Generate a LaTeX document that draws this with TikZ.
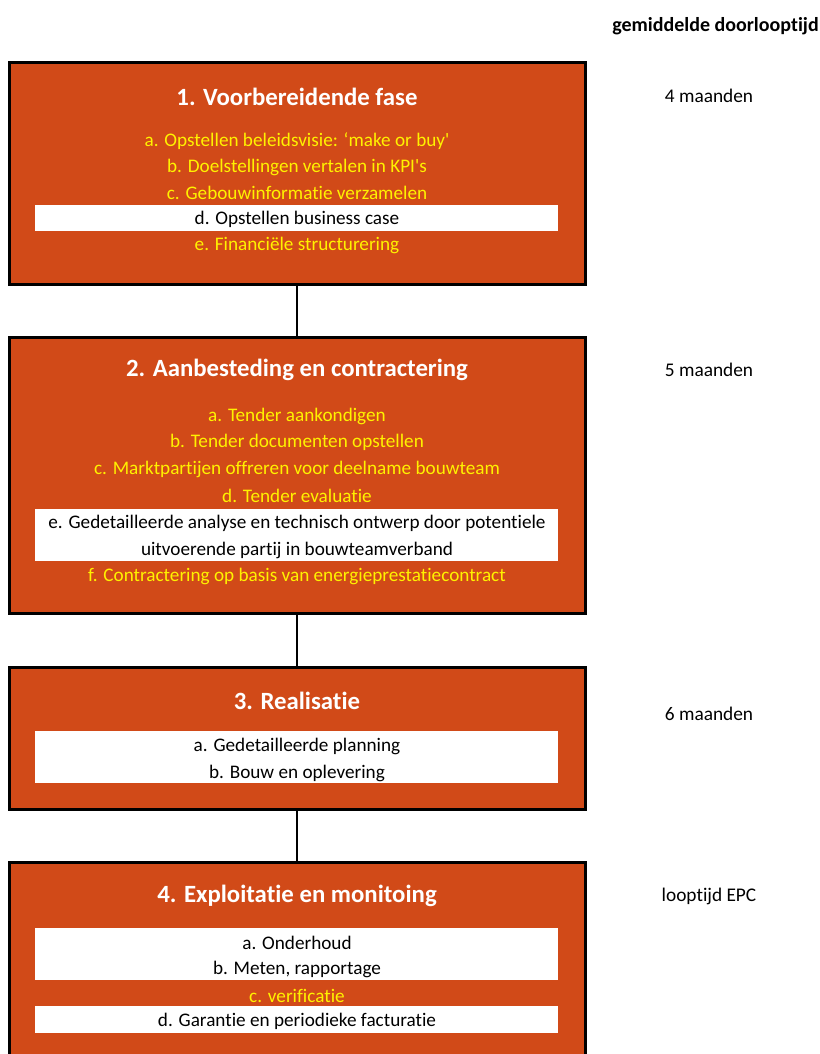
\documentclass[tikz,border=0pt]{standalone}
\usepackage{fontspec}
\setmainfont[Ligatures={NoCommon,NoRare}]{Carlito}
\definecolor{boxorange}{HTML}{D14A18}
\definecolor{itemyellow}{HTML}{FFF200}
\begin{document}
\begin{tikzpicture}[x=0.75pt,y=-0.75pt,
  phase/.style={draw=black, line width=2.25pt, fill=boxorange, minimum width=432pt, inner sep=0pt},
  band/.style={fill=white, draw=none, minimum width=392.25pt, inner sep=0pt},
  ptitle/.style={text=white, font=\fontsize{18.6}{22}\selectfont\bfseries, inner sep=0pt},
  yitem/.style={text=itemyellow, font=\fontsize{14.4}{17}\selectfont, inner sep=0pt},
  witem/.style={text=black, font=\fontsize{14.4}{17}\selectfont, inner sep=0pt, align=center},
  side/.style={text=black, font=\fontsize{14.5}{17}\selectfont, inner sep=0pt},
  link/.style={draw=black, line width=1.5pt}]
\useasboundingbox (0,0) rectangle (819,1054);
\clip (0,0) rectangle (819,1054);
% boxes
\node[phase, minimum height=166.5pt] (b1) at (297,173) {};
\node[phase, minimum height=207pt] (b2) at (297,475) {};
\node[phase, minimum height=106.5pt] (b3) at (297,738) {};
\node[phase, minimum height=163.5pt] (b4) at (297,971) {};
\draw[link] (b1.south) -- (b2.north);
\draw[link] (b2.south) -- (b3.north);
\draw[link] (b3.south) -- (b4.north);
% white bands
\node[band, minimum height=19.5pt] (w1) at (296.5,218) {};
\node[band, minimum height=39pt] (w2) at (296.5,535) {};
\node[band, minimum height=39pt] (w3) at (296.5,757) {};
\node[band, minimum height=39pt] (w4) at (296.5,954) {};
\node[band, minimum height=20.25pt] (w5) at (296.5,1019.5) {};
% box 1
\node[ptitle] (t1) at (297,97) {1. Voorbereidende fase};
\node[yitem] (i1a) at (297,141) {a. Opstellen beleidsvisie: ‘make or buy\textquotesingle};
\node[yitem] (i1b) at (297,167) {b. Doelstellingen vertalen in KPI\textquotesingle s};
\node[yitem] (i1c) at (297,193) {c. Gebouwinformatie verzamelen};
\node[witem] (i1d) at (297,219) {d. Opstellen business case};
\node[yitem] (i1e) at (297,245) {e. Financiële structurering};
% box 2
\node[ptitle] (t2) at (297,370) {2. Aanbesteding en contractering};
\node[yitem] (i2a) at (297,416) {a. Tender aankondigen};
\node[yitem] (i2b) at (297,442) {b. Tender documenten opstellen};
\node[yitem] (i2c) at (297,469) {c. Marktpartijen offreren voor deelname bouwteam};
\node[yitem] (i2d) at (297,496) {d. Tender evaluatie};
\node[witem] (i2e1) at (297,523) {e. Gedetailleerde analyse en technisch ontwerp door potentiele};
\node[witem] (i2e2) at (297,550) {uitvoerende partij in bouwteamverband};
\node[yitem] (i2f) at (297,576) {f. Contractering op basis van energieprestatiecontract};
% box 3
\node[ptitle] (t3) at (297,701) {3. Realisatie};
\node[witem] (i3a) at (297,746) {a. Gedetailleerde planning};
\node[witem] (i3b) at (297,773) {b. Bouw en oplevering};
% box 4
\node[ptitle] (t4) at (297,896) {4. Exploitatie en monitoing};
\node[witem] (i4a) at (297,943) {a. Onderhoud};
\node[witem] (i4b) at (297,969) {b. Meten, rapportage};
\node[yitem] (i4c) at (297,996) {c. verificatie};
\node[witem] (i4d) at (297,1021) {d. Garantie en periodieke facturatie};
% side texts
\node[side, font=\fontsize{15}{18}\selectfont\bfseries] (hdr) at (715.5,26) {gemiddelde doorlooptijd};
\node[side] (d1) at (709,96) {4 maanden};
\node[side] (d2) at (709,370) {5 maanden};
\node[side] (d3) at (709,714) {6 maanden};
\node[side] (d4) at (709,896) {looptijd EPC};
\end{tikzpicture}
\end{document}
